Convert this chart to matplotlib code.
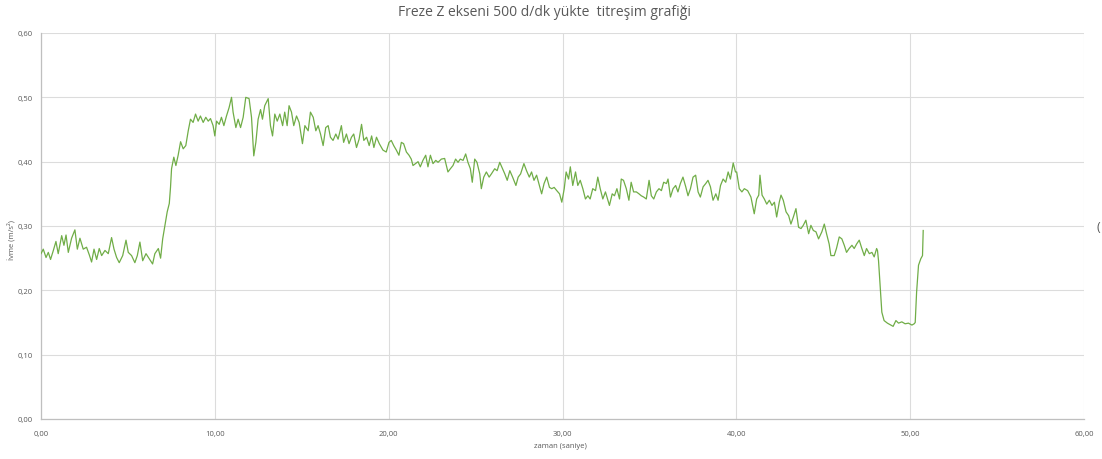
import matplotlib
matplotlib.use("Agg")
import matplotlib.pyplot as plt
from matplotlib.ticker import FixedLocator, FuncFormatter

title = "Freze Z ekseni 500 d/dk yükte  titreşim grafiği"
x_label = "zaman (saniye)"
y_label = "İvme (m/s²)"
x_ticks = [0, 10, 20, 30, 40, 50, 60]
y_ticks = [0.0, 0.1, 0.2, 0.3, 0.4, 0.5, 0.6]

time_s = [
    0.0, 0.13, 0.29, 0.42, 0.55, 0.71, 0.86, 0.99, 1.19, 1.32, 1.44, 1.57, 1.76, 1.95, 2.09, 2.24,
    2.43, 2.62, 2.78, 2.91, 3.05, 3.2, 3.35, 3.49, 3.68, 3.87, 4.06, 4.2, 4.35, 4.5, 4.7, 4.89,
    5.02, 5.21, 5.4, 5.54, 5.69, 5.85, 6.04, 6.23, 6.42, 6.55, 6.75, 6.88, 7.0, 7.13, 7.26, 7.38,
    7.45, 7.51, 7.64, 7.76, 7.89, 8.03, 8.18, 8.33, 8.47, 8.6, 8.75, 8.89, 9.04, 9.17, 9.33, 9.48,
    9.62, 9.75, 9.9, 10.0, 10.1, 10.25, 10.38, 10.52, 10.67, 10.82, 10.96, 11.05, 11.21, 11.34,
    11.48, 11.63, 11.78, 11.97, 12.11, 12.24, 12.36, 12.49, 12.63, 12.74, 12.87, 13.07, 13.2,
    13.32, 13.45, 13.59, 13.74, 13.9, 14.02, 14.16, 14.27, 14.41, 14.54, 14.7, 14.85, 15.04,
    15.18, 15.37, 15.5, 15.66, 15.81, 15.94, 16.08, 16.23, 16.38, 16.52, 16.65, 16.8, 16.96,
    17.09, 17.28, 17.41, 17.57, 17.72, 17.86, 17.99, 18.15, 18.3, 18.44, 18.57, 18.73, 18.88,
    19.02, 19.15, 19.3, 19.46,
    19.67, 19.86, 20.02, 20.15, 20.29, 20.44, 20.59, 20.73, 20.86, 21.02, 21.17, 21.3, 21.4,
    21.55, 21.69, 21.82, 21.97, 22.13, 22.26, 22.4, 22.55, 22.71, 22.84, 23.03, 23.22, 23.41,
    23.55, 23.7, 23.85, 23.99, 24.12, 24.28, 24.43, 24.56, 24.7, 24.81, 24.95, 25.08, 25.24,
    25.33, 25.47, 25.62, 25.78, 25.91, 26.1, 26.24, 26.39, 26.55, 26.68, 26.82, 26.97, 27.13,
    27.32, 27.45, 27.59, 27.78, 27.93, 28.09, 28.22, 28.36, 28.51, 28.67, 28.8, 28.94, 29.09,
    29.25, 29.38, 29.52, 29.67, 29.83, 29.96, 30.1, 30.21, 30.35,
    30.45, 30.59, 30.75, 30.88, 31.02, 31.17, 31.32, 31.46, 31.59, 31.74, 31.9, 32.03, 32.17,
    32.32, 32.47, 32.61, 32.7, 32.86, 32.99, 33.13, 33.28, 33.38, 33.51, 33.67, 33.82, 33.95,
    34.09, 34.25, 34.4, 34.53, 34.67, 34.82, 34.98, 35.11, 35.25, 35.4, 35.55, 35.69, 35.82,
    35.98, 36.07, 36.21, 36.36, 36.51, 36.64, 36.78, 36.93, 37.09, 37.22, 37.36, 37.51, 37.66,
    37.8, 37.93, 38.09, 38.24, 38.37, 38.51, 38.66, 38.82, 38.95, 39.09, 39.24, 39.39, 39.53,
    39.66, 39.82, 39.95,
    40.02, 40.17, 40.32, 40.46, 40.65, 40.84, 41.03, 41.17, 41.29, 41.36, 41.48, 41.61, 41.75,
    41.9, 42.05, 42.19, 42.32, 42.47, 42.57, 42.7, 42.86, 43.01, 43.14, 43.28, 43.43, 43.58,
    43.72, 43.85, 44.0, 44.16, 44.29, 44.43, 44.58, 44.73, 44.92, 45.06, 45.19, 45.34, 45.44,
    45.63, 45.76, 45.92, 46.07, 46.21, 46.34, 46.49, 46.65, 46.78, 46.92, 47.07, 47.22, 47.36,
    47.49, 47.65, 47.8, 47.93, 48.07, 48.12, 48.18, 48.26, 48.37, 48.5, 48.69, 48.89, 49.02,
    49.18, 49.33, 49.52, 49.71, 49.9, 50.1, 50.23, 50.29, 50.37, 50.48, 50.61, 50.71, 50.75,
]

accel = [
    0.257, 0.264, 0.251, 0.259, 0.248, 0.262, 0.276, 0.257, 0.285, 0.270, 0.286, 0.259, 0.281, 0.294, 0.264, 0.281,
    0.264, 0.267, 0.255, 0.244, 0.264, 0.248, 0.265, 0.254, 0.262, 0.257, 0.282, 0.264, 0.251, 0.243, 0.254, 0.278,
    0.259, 0.254, 0.243, 0.254, 0.275, 0.246, 0.257, 0.249, 0.241, 0.257, 0.265, 0.250, 0.280, 0.301, 0.322, 0.335,
    0.360, 0.389, 0.407, 0.394, 0.410, 0.431, 0.420, 0.425, 0.448, 0.466, 0.461, 0.474, 0.463, 0.471, 0.461, 0.469,
    0.463, 0.467, 0.456, 0.440, 0.463, 0.458, 0.469, 0.456, 0.471, 0.484, 0.500, 0.477, 0.453, 0.466,
    0.453, 0.469, 0.500, 0.498, 0.469, 0.409, 0.430, 0.466, 0.481, 0.466, 0.487, 0.498, 0.456,
    0.440, 0.474, 0.463, 0.474, 0.456, 0.477, 0.456, 0.487, 0.477, 0.456, 0.471, 0.461, 0.428,
    0.456, 0.448, 0.477, 0.469, 0.448, 0.456, 0.443, 0.425, 0.453, 0.456, 0.438, 0.433, 0.443,
    0.435, 0.456, 0.430, 0.443, 0.428, 0.438, 0.443, 0.422, 0.435, 0.458, 0.433, 0.438, 0.425,
    0.440, 0.422, 0.438, 0.428,
    0.418, 0.415, 0.430, 0.433, 0.425, 0.418, 0.410, 0.430, 0.428, 0.415, 0.410, 0.404, 0.394,
    0.397, 0.400, 0.392, 0.402, 0.410, 0.392, 0.410, 0.397, 0.402, 0.399, 0.404, 0.405, 0.384,
    0.389, 0.394, 0.404, 0.399, 0.404, 0.402, 0.412, 0.399, 0.389, 0.368, 0.404, 0.399, 0.381,
    0.358, 0.376, 0.384, 0.376, 0.381, 0.389, 0.386, 0.399, 0.389, 0.381, 0.371, 0.386, 0.376,
    0.363, 0.376, 0.381, 0.397, 0.386, 0.376, 0.384, 0.371, 0.379, 0.363, 0.350, 0.366, 0.376,
    0.360, 0.358, 0.360, 0.355, 0.350, 0.337, 0.358, 0.384, 0.373,
    0.392, 0.363, 0.384, 0.363, 0.371, 0.358, 0.342, 0.347, 0.342, 0.358, 0.355, 0.376, 0.358,
    0.342, 0.353, 0.340, 0.332, 0.350, 0.347, 0.358, 0.342, 0.373, 0.371, 0.358, 0.340, 0.368,
    0.353, 0.353, 0.350, 0.347, 0.345, 0.342, 0.371, 0.347, 0.342, 0.353, 0.358, 0.355, 0.368,
    0.366, 0.373, 0.345, 0.358, 0.363, 0.353, 0.366, 0.376, 0.361, 0.347, 0.358, 0.376, 0.379,
    0.353, 0.345, 0.361, 0.366, 0.371, 0.361, 0.340, 0.350, 0.340, 0.363, 0.373, 0.368, 0.384,
    0.373, 0.398, 0.384,
    0.384, 0.358, 0.353, 0.358, 0.355, 0.345, 0.319, 0.342, 0.348, 0.379, 0.348, 0.342, 0.334,
    0.340, 0.332, 0.337, 0.314, 0.337, 0.348, 0.340, 0.322, 0.316, 0.303, 0.314, 0.327, 0.298,
    0.296, 0.301, 0.309, 0.288, 0.301, 0.293, 0.291, 0.280, 0.291, 0.303, 0.288, 0.272, 0.254,
    0.254, 0.265, 0.283, 0.280, 0.270, 0.259, 0.265, 0.270, 0.265, 0.272, 0.278, 0.265, 0.254,
    0.265, 0.257, 0.259, 0.252, 0.265, 0.262, 0.246, 0.213, 0.166, 0.153, 0.149, 0.146, 0.144,
    0.153, 0.149, 0.151, 0.148, 0.149, 0.146, 0.148, 0.150, 0.197, 0.239, 0.249, 0.254, 0.293,
]

W, H = 1102, 460
fig = plt.figure(figsize=(W / 100, H / 100), dpi=100)
ax = fig.add_axes([41 / W, 1 - 420 / H, (1084 - 41) / W, (420 - 34) / H])

font = ["Open Sans", "DejaVu Sans"]
txt_col = "#595959"
grid_col = "#DCDCDC"

ax.plot(time_s, accel, color="#70AD47", lw=0.9, zorder=3)

ax.set_xlim(0, 60)
ax.set_ylim(0, 0.6)
ax.xaxis.set_major_locator(FixedLocator(x_ticks))
ax.yaxis.set_major_locator(FixedLocator(y_ticks))
ax.xaxis.set_major_formatter(FuncFormatter(lambda v, p: f"{v:.2f}".replace(".", ",")))
ax.yaxis.set_major_formatter(FuncFormatter(lambda v, p: f"{v:.2f}".replace(".", ",")))
ax.grid(True, color=grid_col, lw=0.8, zorder=0)
ax.tick_params(axis="y", length=0, labelsize=5.5, labelcolor=txt_col, pad=6)
ax.tick_params(axis="x", length=0, labelsize=5.5, labelcolor=txt_col, pad=8)
for lab in ax.get_xticklabels() + ax.get_yticklabels():
    lab.set_family(font)
for side in ("top", "right"):
    ax.spines[side].set_visible(False)
for side in ("left", "bottom"):
    ax.spines[side].set_color("#BFBFBF")
    ax.spines[side].set_linewidth(0.9)

fig.text(545 / W, 1 - 12 / H, title, ha="center", va="center", fontsize=10,
         color=txt_col, family=font)
fig.text(560 / W, 1 - 447 / H, x_label, ha="center", va="center", fontsize=5.5,
         color=txt_col, family=font)
fig.text(11 / W, 1 - 240 / H, y_label, ha="center", va="center", rotation=90,
         fontsize=5.5, color=txt_col, family=font)
fig.text(1098 / W, 1 - 228 / H, "(", ha="center", va="center", fontsize=9,
         color=txt_col, family=font)

fig.savefig("out.png", dpi=100, facecolor="white")
